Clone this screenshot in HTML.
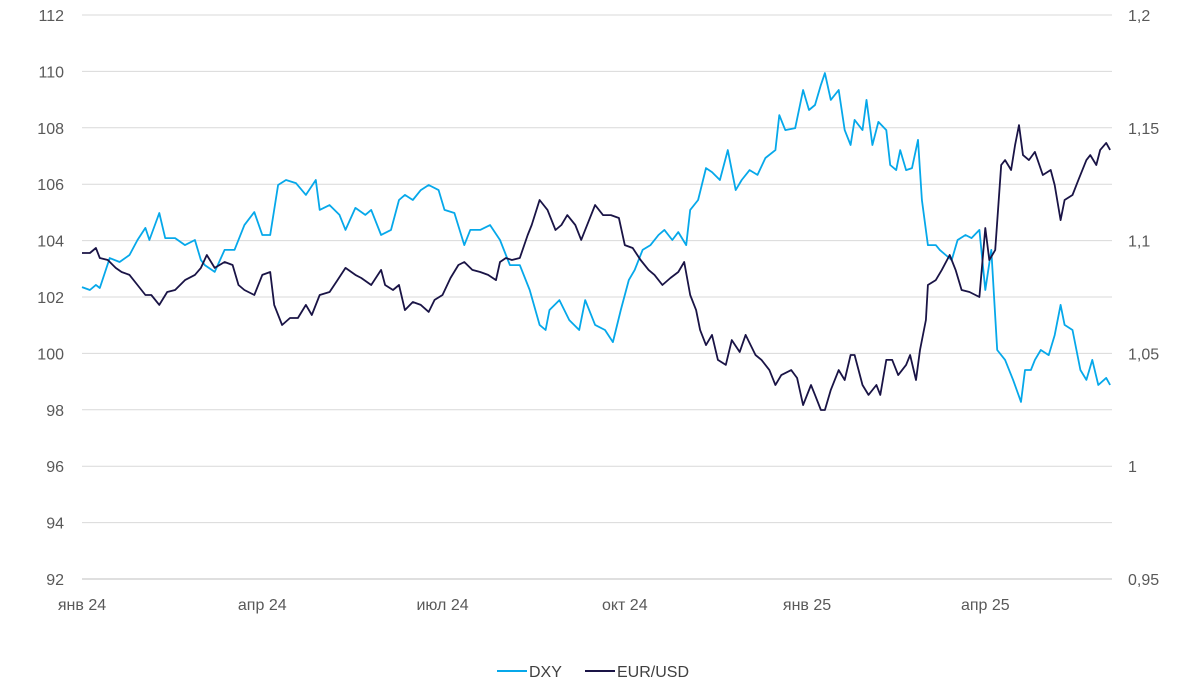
<!DOCTYPE html>
<html><head><meta charset="utf-8">
<style>
html,body{margin:0;padding:0;background:#fff;}
svg{display:block;font-family:"Liberation Sans",sans-serif;}
</style></head>
<body>
<svg id="chart" width="1200" height="696" viewBox="0 0 1200 696" xmlns="http://www.w3.org/2000/svg">
<g id="grid"></g>
<g id="yl"></g>
<g id="yr"></g>
<g id="xa"></g>
<g id="series"></g>
<g>
  <g>
    <line x1="497" y1="671" x2="527" y2="671" stroke="#06a8ea" stroke-width="2"/>
    <text x="529" y="677" font-size="16" fill="#404040">DXY</text>
  </g>
  <g>
    <line x1="585" y1="671" x2="615" y2="671" stroke="#1a1446" stroke-width="2"/>
    <text x="617" y="677" font-size="16" fill="#404040">EUR/USD</text>
  </g>
</g>
</svg>
<script>
const leftTicks=[92,94,96,98,100,102,104,106,108,110,112];
const rightTickLabels=["0,95","1","1,05","1,1","1,15","1,2"];
const rightTicks=[0.95,1.0,1.05,1.1,1.15,1.2];
const xTickDays=[0,91,182,274,366,456];
const xTickLabels=["янв 24","апр 24","июл 24","окт 24","янв 25","апр 25"];
const dxyDays=[0,4,7,9,14,19,24,28,32,34,39,42,47,52,57,60,62,67,72,77,82,87,91,95,99,103,108,113,118,120,125,130,133,138,143,146,151,156,160,163,167,171,175,180,183,188,193,196,201,206,211,216,221,226,231,234,236,241,246,251,254,259,264,268,272,276,279,283,287,291,294,298,301,305,307,311,315,318,322,326,330,333,337,341,345,350,352,355,360,364,367,370,373,375,378,382,385,388,390,394,396,399,402,406,408,411,413,416,419,422,424,427,431,433,436,439,442,446,449,453,456,459,462,466,470,474,476,479,481,484,488,491,494,496,500,504,507,510,513,517,519];
const dxyValues=[102.35,102.25,102.43,102.32,103.38,103.24,103.49,104.02,104.45,104.02,104.98,104.09,104.09,103.84,104.02,103.31,103.13,102.89,103.67,103.67,104.55,105.01,104.2,104.2,105.97,106.15,106.04,105.62,106.15,105.09,105.26,104.91,104.38,105.16,104.91,105.09,104.2,104.38,105.44,105.62,105.44,105.79,105.97,105.79,105.09,104.98,103.84,104.38,104.38,104.55,104.02,103.13,103.13,102.25,101.01,100.83,101.54,101.89,101.18,100.83,101.89,101.01,100.83,100.4,101.54,102.6,102.96,103.67,103.84,104.2,104.38,104.02,104.3,103.84,105.09,105.44,106.57,106.43,106.15,107.21,105.79,106.15,106.5,106.33,106.93,107.21,108.45,107.92,107.99,109.34,108.63,108.81,109.52,109.94,108.99,109.34,107.92,107.39,108.28,107.92,108.99,107.39,108.21,107.92,106.68,106.5,107.21,106.5,106.57,107.57,105.44,103.84,103.84,103.67,103.49,103.31,104.02,104.2,104.09,104.38,102.25,103.67,100.12,99.77,99.06,98.28,99.41,99.41,99.77,100.12,99.94,100.65,101.72,101.01,100.83,99.41,99.06,99.77,98.88,99.13,98.88];
const eurDays=[0,4,7,9,13,17,20,24,28,32,35,39,43,47,52,57,60,63,67,72,76,79,82,87,91,95,97,101,105,109,113,116,120,125,129,133,138,141,146,151,153,157,160,163,167,171,175,178,182,186,190,193,197,201,205,209,211,214,217,221,225,227,231,235,239,242,245,249,252,256,259,263,267,271,274,278,282,286,289,293,297,301,304,307,310,312,315,318,321,325,328,332,335,340,343,347,350,353,358,361,364,368,370,373,375,378,382,385,388,390,394,397,401,403,406,409,412,416,418,421,423,426,427,431,434,438,441,444,448,453,456,458,461,464,466,469,471,473,475,478,481,485,489,491,494,496,500,503,507,509,512,514,517,519];
const eurValues=[1.0945,1.0945,1.0967,1.0923,1.0914,1.0879,1.0861,1.0848,1.0803,1.0759,1.0759,1.0715,1.0772,1.0781,1.0825,1.0848,1.0879,1.0936,1.0879,1.0905,1.0892,1.0803,1.0781,1.0759,1.0848,1.0861,1.0715,1.0626,1.0657,1.0657,1.0715,1.067,1.0759,1.0772,1.0825,1.0879,1.0848,1.0834,1.0803,1.087,1.0803,1.0781,1.0803,1.0692,1.0728,1.0715,1.0684,1.0737,1.0759,1.0834,1.0892,1.0905,1.087,1.0861,1.0848,1.0825,1.0905,1.0923,1.0914,1.0923,1.1025,1.1069,1.118,1.1136,1.1047,1.1069,1.1113,1.1069,1.1003,1.1091,1.1158,1.1113,1.1113,1.11,1.098,1.0967,1.0914,1.087,1.0848,1.0803,1.0834,1.0861,1.0905,1.0759,1.0692,1.0604,1.0537,1.0582,1.0471,1.0449,1.0559,1.0506,1.0582,1.0493,1.0471,1.0426,1.036,1.0404,1.0426,1.0391,1.0271,1.036,1.0316,1.0249,1.0249,1.0338,1.0426,1.0382,1.0493,1.0493,1.036,1.0316,1.036,1.0316,1.0471,1.0471,1.0404,1.0449,1.0493,1.0382,1.0515,1.0648,1.0803,1.0825,1.087,1.0936,1.087,1.0781,1.0772,1.075,1.1056,1.0914,1.0958,1.1335,1.1357,1.1313,1.1424,1.1512,1.1379,1.1357,1.1393,1.1291,1.1313,1.1246,1.1091,1.118,1.1202,1.1269,1.1357,1.1379,1.1335,1.1402,1.1433,1.1402];

const NS="http://www.w3.org/2000/svg";
const X0=82,X1=1112,Y0=15,Y1=579;
function xs(d){return X0+d*1.981;}
function yl(v){return Y1-(v-92)/(112-92)*(Y1-Y0);}
function yr(v){return Y1-(v-0.95)/(1.2-0.95)*(Y1-Y0);}
function mk(tag,attrs,parent){const e=document.createElementNS(NS,tag);for(const k in attrs)e.setAttribute(k,attrs[k]);parent.appendChild(e);return e;}
const grid=document.getElementById('grid'),gl=document.getElementById('yl'),gr=document.getElementById('yr'),gx=document.getElementById('xa'),gs=document.getElementById('series');
leftTicks.forEach(v=>{
  const y=yl(v);
  const ln=mk('line',{x1:X0,x2:X1,y1:y,y2:y,stroke:v===92?'#bfbfbf':'#d9d9d9','stroke-width':1},grid);
  
  
  const t=mk('text',{x:64,y:y+6,'font-size':16,fill:'#595959','text-anchor':'end'},gl);
  t.textContent=String(v);
  
  
});
rightTicks.forEach((v,i)=>{
  const t=mk('text',{x:1128,y:yr(v)+6,'font-size':16,fill:'#595959'},gr);
  t.textContent=rightTickLabels[i];
  
  
});
xTickDays.forEach((d,i)=>{
  const t=mk('text',{x:xs(d),y:610,'font-size':16,fill:'#595959','text-anchor':'middle'},gx);
  t.textContent=xTickLabels[i];
  
  
});
function pathOf(days,vals,sc){return days.map((d,i)=>(i?'L':'M')+xs(d).toFixed(1)+','+sc(vals[i]).toFixed(1)).join('');}
const p1=mk('path',{d:pathOf(dxyDays,dxyValues,yl),fill:'none',stroke:'#06a8ea','stroke-width':1.8,'stroke-linejoin':'round'},gs);


const p2=mk('path',{d:pathOf(eurDays,eurValues,yr),fill:'none',stroke:'#1a1446','stroke-width':1.8,'stroke-linejoin':'round'},gs);


</script>
</body></html>
